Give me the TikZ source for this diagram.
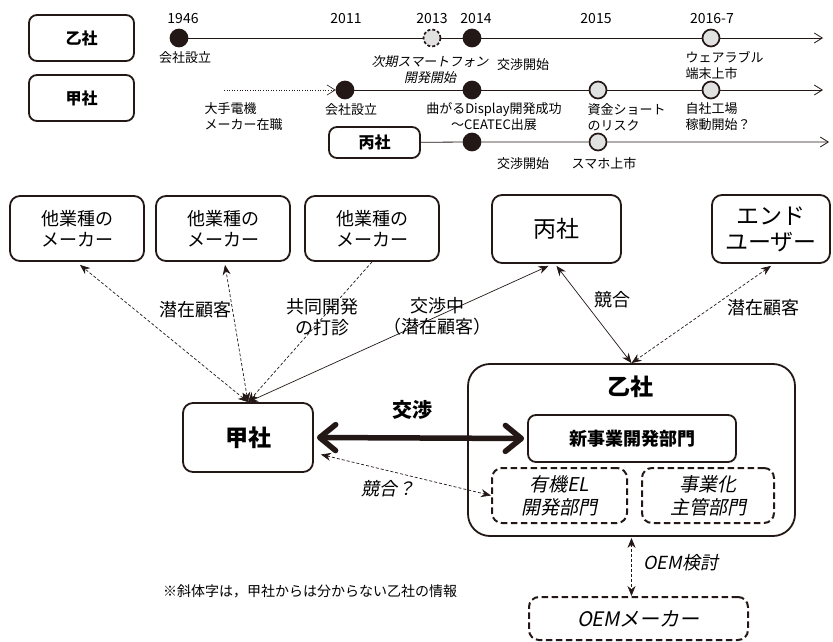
\documentclass[tikz,border=0pt]{standalone}
\usepackage{fontspec}
\setmainfont{Noto Sans CJK JP}
\newfontfamily\jpit[FakeSlant=0.2]{Noto Sans CJK JP}
\usetikzlibrary{arrows.meta}
\definecolor{ink}{RGB}{35,24,21}
\definecolor{lgray}{RGB}{225,225,225}
\tikzset{
  tbox/.style={draw=ink, line width=1.8pt, rounded corners=8pt, inner sep=0pt,
    font=\bfseries\fontsize{16}{19}\selectfont},
  mbox/.style={draw=ink, line width=1.8pt, rounded corners=10pt, align=center, inner sep=0pt,
    font=\fontsize{18}{21}\selectfont},
  dbox/.style={mbox, line width=2pt, dash pattern=on 6.5pt off 3.5pt, font=\jpit\fontsize{19}{23}\selectfont},
  tdot/.style={circle, draw=ink, line width=1.7pt, minimum size=17pt, inner sep=0pt},
  blk/.style={tdot, fill=ink},
  gry/.style={tdot, fill=lgray},
  tl/.style={draw=ink, line width=0.8pt},
  tlarr/.style={-{Straight Barb[length=8pt,width=10pt]}},
  year/.style={font=\fontsize{14}{16}\selectfont},
  tlab/.style={font=\fontsize{13}{16}\selectfont, align=center},
  tlabl/.style={tlab, align=left, anchor=west},
  con/.style={draw=ink, line width=0.7pt},
  dcon/.style={con, dash pattern=on 3pt off 2pt},
  both/.style={{Stealth[length=10pt,width=8pt]}-{Stealth[length=10pt,width=8pt]}},
  fwd/.style={-{Stealth[length=10pt,width=8pt]}},
  mlab/.style={font=\fontsize{18}{21}\selectfont, align=center},
  ilab/.style={font=\jpit\fontsize{18}{21}\selectfont, align=center},
}
\begin{document}
\begin{tikzpicture}[x=1pt,y=-1pt]
\useasboundingbox (0,0) rectangle (833,642);

% ---------- timeline: left boxes ----------
\node[tbox, minimum width=105pt, minimum height=46pt] (otsuT) at (81.5,38) {乙社};
\node[tbox, minimum width=105pt, minimum height=46pt] (kouT) at (81.5,98) {甲社};
\node[tbox, minimum width=91pt, minimum height=31pt] (heiT) at (374.5,142.5) {丙社};

% years
\node[year] (y1946) at (183,19) {1946};
\node[year] (y2011) at (346,19) {2011};
\node[year] (y2013) at (432,19) {2013};
\node[year] (y2014) at (476,19) {2014};
\node[year] (y2015) at (596,19) {2015};
\node[year] (y2016) at (712,19) {2016-7};

% row 1 (乙社)
\node[blk] (a1) at (179,38) {};
\node[tdot, fill=lgray, dash pattern=on 3pt off 2pt] (a2) at (432,38) {};
\node[blk] (a3) at (472,38) {};
\node[gry] (a4) at (711,38) {};
\coordinate (a5) at (823,38);
\draw[tl, tlarr] (a1) -- (a2) -- (a3) -- (a4) -- (a5);
\node[tlab] (la1) at (185,58) {会社設立};
\node[tlab, font=\jpit\fontsize{13}{16}\selectfont] (la2) at (430,70) {次期スマートフォン\\開発開始};
\node[tlab] (la3) at (523,65) {交渉開始};
\node[tlabl] (la4) at (682,65) {ウェアラブル\\端末上市};

% row 2 (甲社)
\coordinate (b0) at (224,90);
\node[blk] (b1) at (345,90) {};
\node[blk] (b2) at (472,90) {};
\node[gry] (b3) at (598,90) {};
\node[gry] (b4) at (711,90) {};
\coordinate (b5) at (823,90);
\draw[draw=ink, line width=0.6pt, dotted, tlarr] (b0) -- (b1);
\draw[tl, tlarr] (b1) -- (b2) -- (b3) -- (b4) -- (b5);
\node[tlabl] (lb0) at (201,117) {大手電機\\メーカー在職};
\node[tlab] (lb1) at (351,110) {会社設立};
\node[tlab] (lb2) at (494,117) {曲がるDisplay開発成功\\〜CEATEC出展};
\node[tlabl] (lb3) at (584,117) {資金ショート\\のリスク};
\node[tlabl] (lb4) at (682,117) {自社工場\\稼動開始？};

% row 3 (丙社)
\node[blk] (c1) at (472,142) {};
\node[gry] (c2) at (598,142) {};
\coordinate (c3) at (829,142);
\draw[tl, tlarr] (heiT) -- (c1) -- (c2) -- (c3);
\node[tlab] (lc1) at (523,164) {交渉開始};
\node[tlab] (lc2) at (604,164) {スマホ上市};

% ---------- relation diagram ----------
\node[mbox, minimum width=134pt, minimum height=65pt] (m1) at (77,228.5) {他業種の\\メーカー};
\node[mbox, minimum width=134pt, minimum height=65pt] (m2) at (223,228.5) {他業種の\\メーカー};
\node[mbox, minimum width=134pt, minimum height=65pt] (m3) at (372,228.5) {他業種の\\メーカー};
\node[mbox, minimum width=129pt, minimum height=68pt, font=\fontsize{23}{26}\selectfont] (hei) at (556.5,229) {丙社};
\node[mbox, minimum width=118pt, minimum height=68pt, font=\fontsize{23}{26}\selectfont] (endu) at (771,229) {エンド\\ユーザー};

\node[mbox, minimum width=130pt, minimum height=69pt, font=\bfseries\fontsize{23}{26}\selectfont] (kou) at (248,437.5) {甲社};

\node[mbox, minimum width=327pt, minimum height=172pt, rounded corners=22pt] (otsu) at (631.5,450) {};
\node[font=\bfseries\fontsize{23}{26}\selectfont] (otsuTitle) at (630,387) {乙社};
\node[mbox, minimum width=208pt, minimum height=47pt, rounded corners=8pt, font=\bfseries\fontsize{18}{21}\selectfont] (shin) at (632,438.5) {新事業開発部門};
\node[dbox, minimum width=135pt, minimum height=55pt] (yuki) at (559.5,495.5) {有機EL\\開発部門};
\node[dbox, minimum width=132pt, minimum height=55pt] (jigyo) at (708,495.5) {事業化\\主管部門};
\node[dbox, minimum width=219pt, minimum height=43pt, font=\jpit\fontsize{20}{24}\selectfont] (oem) at (638.5,618.5) {OEMメーカー};

% connectors
\draw[dcon, both] (kou.north) -- ([xshift=3pt,yshift=-3pt]m1.south);
\draw[dcon, both] (kou.north) -- ([xshift=2pt,yshift=-3pt]m2.south);
\draw[dcon, fwd] (m3.south) -- (kou.north);
\draw[con, both] (kou.north) -- ([xshift=-8pt,yshift=-2pt]hei.south);
\draw[con, both] ([yshift=-2pt]hei.south) -- (otsu.north);
\draw[dcon, both] ([yshift=-2pt]endu.south) -- (otsu.north);
\draw[draw=ink, line width=5.5pt, {Straight Barb[length=16pt,width=26pt,round]}-{Straight Barb[length=16pt,width=26pt,round]}] ([xshift=3pt]kou.east) -- ([xshift=-3pt]shin.west);
\draw[dcon, both] ([xshift=7pt,yshift=-17pt]kou.east) -- (yuki.west);
\draw[dcon, both] ([yshift=-1pt]otsu.south) -- (otsu.south |- oem.north);

% labels
\node[mlab] (l1) at (195,310) {潜在顧客};
\node[mlab] (l2) at (322,317) {共同開発\\の打診};
\node[mlab] (l3) at (437,316) {交渉中\\（潜在顧客）};
\node[mlab] (l4) at (612,300) {競合};
\node[mlab] (l5) at (763,308) {潜在顧客};
\node[font=\bfseries\fontsize{20}{24}\selectfont] (l6) at (412,410) {交渉};
\node[ilab] (l7) at (388,489) {競合？};
\node[ilab, anchor=west] (l8) at (640,563) {OEM検討};
\node[font=\fontsize{14}{16}\selectfont] (note) at (310,591) {※斜体字は，甲社からは分からない乙社の情報};
\end{tikzpicture}
\end{document}
